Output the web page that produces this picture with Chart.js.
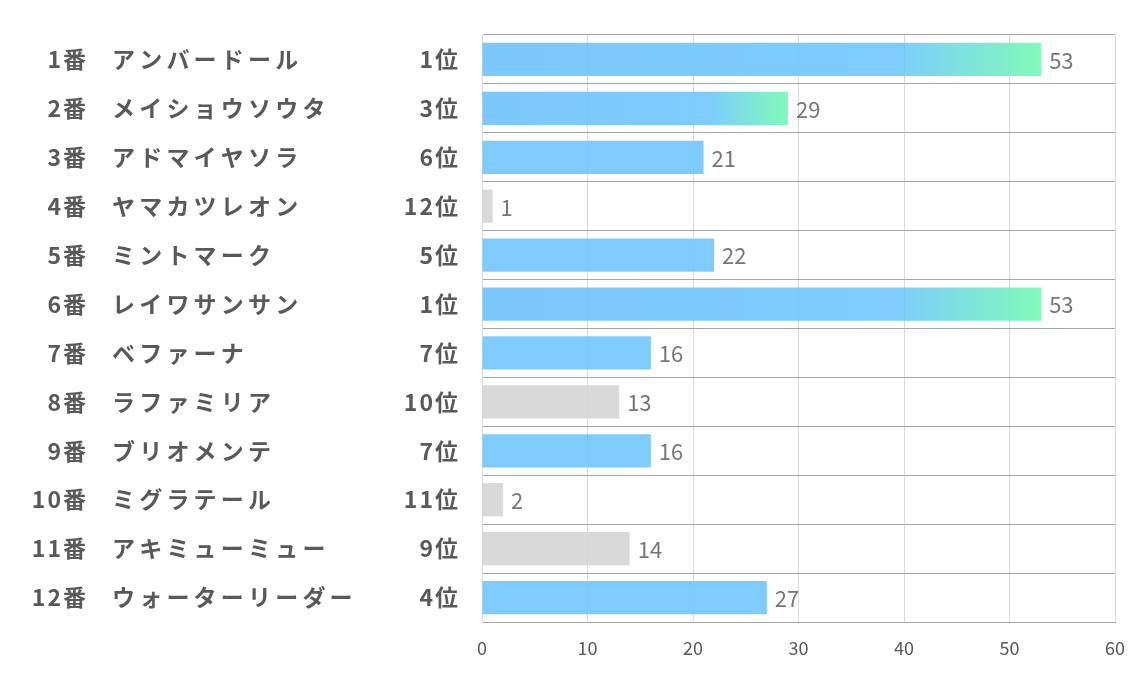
<!DOCTYPE html>
<html>
<head>
<meta charset="utf-8">
<script src="https://cdn.jsdelivr.net/npm/chart.js@4/dist/chart.umd.min.js"></script>
<style>
html,body{margin:0;padding:0;background:#fff;}
#wrap{width:1134px;height:680px;position:relative;}
</style>
</head>
<body>
<div id="wrap"><canvas id="c" width="1134" height="680"></canvas></div>
<script>
const numbers = ["1番","2番","3番","4番","5番","6番","7番","8番","9番","10番","11番","12番"];
const names = ["アンバードール","メイショウソウタ","アドマイヤソラ","ヤマカツレオン","ミントマーク","レイワサンサン","ベファーナ","ラファミリア","ブリオメンテ","ミグラテール","アキミューミュー","ウォーターリーダー"];
const ranks = [1,3,6,12,5,1,7,10,7,11,9,4];
const values = [53,29,21,1,22,53,16,13,16,2,14,27];
const xTicks = [0,10,20,30,40,50,60];

const FONT = "'Noto Sans CJK JP', 'Noto Sans', sans-serif";
const BLUE0 = 'rgba(108,194,253,0.9)';
const BLUE1 = 'rgba(111,199,253,0.9)';
const GREEN = 'rgba(114,249,178,0.9)';
const GRAY = 'rgba(213,213,213,0.9)';

function barColor(ctx) {
  const i = ctx.dataIndex;
  const r = ranks[i];
  if (r >= 9) return GRAY;
  const chart = ctx.chart;
  const xs = chart.scales && chart.scales.x;
  if (!chart.chartArea || !xs) return BLUE1;
  if (r > 3) return BLUE1;
  const x0 = xs.getPixelForValue(0);
  const x1 = xs.getPixelForValue(values[i]);
  const g = chart.ctx.createLinearGradient(x0, 0, x1, 0);
  g.addColorStop(0, BLUE0);
  g.addColorStop(0.74, BLUE1);
  g.addColorStop(1, GREEN);
  return g;
}

const labelPlugin = {
  id: 'labels',
  afterDatasetsDraw(chart) {
    const c = chart.ctx;
    const ys = chart.scales.y;
    const xs = chart.scales.x;
    c.save();
    c.textBaseline = 'middle';
    numbers.forEach((n, i) => {
      const y = ys.getPixelForValue(i);
      c.fillStyle = '#595959';
      c.font = "bold 23px " + FONT;
      c.letterSpacing = '2px';
      c.textAlign = 'right';
      c.fillText(n, 88, y);
      c.letterSpacing = '4.2px';
      c.textAlign = 'left';
      c.fillText(names[i], 112, y);
      c.letterSpacing = '2px';
      c.textAlign = 'right';
      c.fillText(ranks[i] + '位', 460, y);
      c.letterSpacing = '0px';
      c.font = "22px " + FONT;
      c.fillStyle = '#767676';
      c.textAlign = 'left';
      c.fillText(String(values[i]), xs.getPixelForValue(values[i]) + 8, y + 1);
    });
    c.restore();
  }
};

new Chart(document.getElementById('c'), {
  type: 'bar',
  data: {
    labels: numbers.map((n, i) => n + ' ' + names[i]),
    datasets: [{
      data: values,
      backgroundColor: barColor,
      borderWidth: 0,
      barPercentage: 0.68,
      categoryPercentage: 1.0
    }]
  },
  options: {
    indexAxis: 'y',
    responsive: false,
    animation: false,
    devicePixelRatio: 1,
    layout: { padding: { top: 35, right: 19, left: 0, bottom: 0 } },
    plugins: { legend: { display: false }, tooltip: { enabled: false } },
    scales: {
      x: {
        min: 0, max: 60,
        afterBuildTicks(s) { s.ticks = xTicks.map(v => ({ value: v })); },
        afterFit(s) { s.height = 58; s.paddingRight = 0; s.paddingLeft = 0; },
        grid: { color: '#d9d9d9', lineWidth: 1, drawTicks: false },
        border: { display: true, color: '#a6a6a6' },
        ticks: { color: '#595959', font: { family: FONT, size: 18 }, padding: 15 }
      },
      y: {
        afterFit(s) { s.width = 482; },
        grid: { color: '#a6a6a6', lineWidth: 1, drawTicks: false, offset: true },
        border: { display: true, color: '#d9d9d9' },
        ticks: { display: false }
      }
    }
  },
  plugins: [labelPlugin]
});
</script>
</body>
</html>
